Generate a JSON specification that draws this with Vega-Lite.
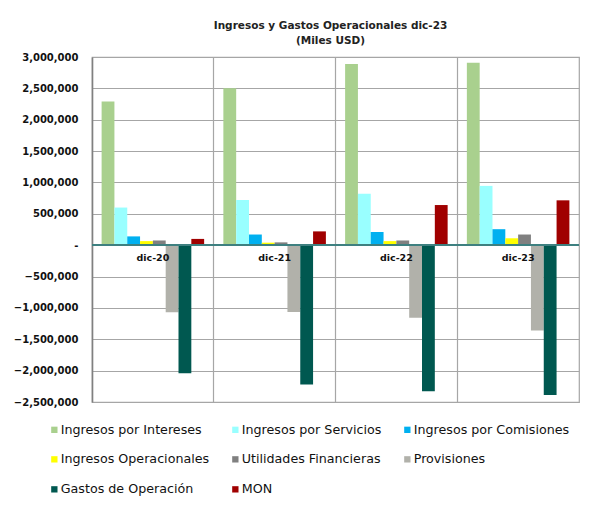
{
  "$schema": "https://vega.github.io/schema/vega-lite/v6.json",
  "autosize": "none",
  "width": 487,
  "height": 345,
  "padding": {"left": 92, "top": 57, "right": 14, "bottom": 109},
  "background": "white",
  "config": {
    "view": {"stroke": "#a6a6a6", "strokeWidth": 1.2},
    "font": "DejaVu Sans",
    "axis": {"labelOverlap": false},
    "axisY": {
      "labelOverlap": false,
      "title": null,
      "values": [-2500000, -2000000, -1500000, -1000000, -500000, 0, 500000, 1000000, 1500000, 2000000, 2500000, 3000000],
      "labelExpr": "datum.value == 0 ? '-' : format(datum.value, ',')",
      "labelFont": "DejaVu Sans",
      "labelFontSize": 10,
      "labelFontWeight": "bold",
      "labelColor": "#111111",
      "labelPadding": 14,
      "ticks": false,
      "domainColor": "#808080",
      "domainWidth": 1.5,
      "grid": true,
      "gridColor": "#a6a6a6",
      "gridWidth": 1.2
    }
  },
  "title": {
    "text": ["Ingresos y Gastos Operacionales dic-23", "(Miles USD)"],
    "font": "DejaVu Sans",
    "fontSize": 10.5,
    "fontWeight": "bold",
    "color": "#222222",
    "lineHeight": 15,
    "offset": 6,
    "anchor": "middle",
    "dx": -5
  },
  "datasets": {
    "rows": [
      {"year": "dic-20", "serie": "Ingresos por Intereses", "value": 2290000},
      {"year": "dic-20", "serie": "Ingresos por Servicios", "value": 600000},
      {"year": "dic-20", "serie": "Ingresos por Comisiones", "value": 140000},
      {"year": "dic-20", "serie": "Ingresos Operacionales", "value": 65000},
      {"year": "dic-20", "serie": "Utilidades Financieras", "value": 75000},
      {"year": "dic-20", "serie": "Provisiones", "value": -1070000},
      {"year": "dic-20", "serie": "Gastos de Operación", "value": -2040000},
      {"year": "dic-20", "serie": "MON", "value": 100000},
      {"year": "dic-21", "serie": "Ingresos por Intereses", "value": 2500000},
      {"year": "dic-21", "serie": "Ingresos por Servicios", "value": 720000},
      {"year": "dic-21", "serie": "Ingresos por Comisiones", "value": 170000},
      {"year": "dic-21", "serie": "Ingresos Operacionales", "value": 40000},
      {"year": "dic-21", "serie": "Utilidades Financieras", "value": 45000},
      {"year": "dic-21", "serie": "Provisiones", "value": -1065000},
      {"year": "dic-21", "serie": "Gastos de Operación", "value": -2220000},
      {"year": "dic-21", "serie": "MON", "value": 220000},
      {"year": "dic-22", "serie": "Ingresos por Intereses", "value": 2890000},
      {"year": "dic-22", "serie": "Ingresos por Servicios", "value": 820000},
      {"year": "dic-22", "serie": "Ingresos por Comisiones", "value": 210000},
      {"year": "dic-22", "serie": "Ingresos Operacionales", "value": 65000},
      {"year": "dic-22", "serie": "Utilidades Financieras", "value": 75000},
      {"year": "dic-22", "serie": "Provisiones", "value": -1155000},
      {"year": "dic-22", "serie": "Gastos de Operación", "value": -2330000},
      {"year": "dic-22", "serie": "MON", "value": 640000},
      {"year": "dic-23", "serie": "Ingresos por Intereses", "value": 2910000},
      {"year": "dic-23", "serie": "Ingresos por Servicios", "value": 945000},
      {"year": "dic-23", "serie": "Ingresos por Comisiones", "value": 255000},
      {"year": "dic-23", "serie": "Ingresos Operacionales", "value": 110000},
      {"year": "dic-23", "serie": "Utilidades Financieras", "value": 170000},
      {"year": "dic-23", "serie": "Provisiones", "value": -1360000},
      {"year": "dic-23", "serie": "Gastos de Operación", "value": -2390000},
      {"year": "dic-23", "serie": "MON", "value": 715000}
    ],
    "years": [
      {"year": "dic-20"}, {"year": "dic-21"}, {"year": "dic-22"}, {"year": "dic-23"}
    ]
  },
  "layer": [
    {
      "data": {"name": "rows"},
      "mark": {"type": "bar", "strokeWidth": 0},
      "encoding": {
        "x": {
          "field": "year",
          "type": "nominal",
          "sort": ["dic-20", "dic-21", "dic-22", "dic-23"],
          "scale": {"paddingInner": 0, "paddingOuter": 0},
          "axis": {
            "title": null,
            "labels": false,
            "ticks": false,
            "domain": false,
            "grid": true,
            "bandPosition": 0,
            "gridColor": "#a6a6a6",
            "gridWidth": 1.2
          }
        },
        "xOffset": {
          "field": "serie",
          "type": "nominal",
          "sort": ["Ingresos por Intereses", "Ingresos por Servicios", "Ingresos por Comisiones", "Ingresos Operacionales", "Utilidades Financieras", "Provisiones", "Gastos de Operación", "MON"],
          "scale": {"paddingInner": 0, "paddingOuter": 0.75}
        },
        "y": {
          "field": "value",
          "type": "quantitative",
          "title": null,
          "scale": {"domain": [-2500000, 3000000], "nice": false, "zero": false}
        },
        "color": {
          "field": "serie",
          "type": "nominal",
          "scale": {
            "domain": ["Ingresos por Intereses", "Ingresos por Servicios", "Ingresos por Comisiones", "Ingresos Operacionales", "Utilidades Financieras", "Provisiones", "Gastos de Operación", "MON"],
            "range": ["#a9d08e", "#99ffff", "#00b0f0", "#ffff00", "#808080", "#b1b1aa", "#005850", "#a00000"]
          },
          "legend": {
            "title": null,
            "orient": "none",
            "legendX": -44,
            "legendY": 366,
            "columns": 3,
            "direction": "horizontal",
            "symbolType": "square",
            "symbolSize": 40,
            "symbolStrokeWidth": 0,
            "labelFont": "DejaVu Sans",
            "labelFontSize": 12.7,
            "labelColor": "#111111",
            "labelOffset": 0,
            "rowPadding": 16,
            "columnPadding": 19,
            "padding": 0,
            "labelLimit": 300
          }
        }
      }
    },
    {
      "data": {"name": "rows"},
      "mark": {"type": "rule", "color": "#3f8080", "strokeWidth": 1.2},
      "encoding": {"y": {"datum": 0, "title": null}}
    },
    {
      "data": {"name": "years"},
      "mark": {"type": "text", "font": "DejaVu Sans", "fontSize": 9.5, "fontWeight": "bold", "color": "#111111", "dy": 13, "baseline": "middle"},
      "encoding": {
        "x": {"field": "year", "type": "nominal", "sort": ["dic-20", "dic-21", "dic-22", "dic-23"]},
        "y": {"datum": 0, "title": null},
        "text": {"field": "year"}
      }
    }
  ]
}
